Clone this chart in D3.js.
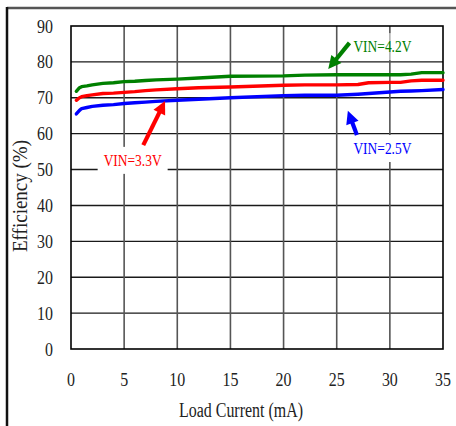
<!DOCTYPE html>
<html>
<head>
<meta charset="utf-8">
<script src="https://cdn.jsdelivr.net/npm/d3@7"></script>
<style>
  body { margin: 0; background: #fff; }
  svg { display: block; }
  text { font-family: "Liberation Serif", "DejaVu Serif", serif; }
</style>
</head>
<body>
<svg width="456" height="426"></svg>
<script>
// Données
let courant = [0.5, 0.8, 1, 1.5, 2, 3, 4, 5, 6, 7, 8, 10, 12, 15, 20, 22, 25, 27, 28, 30, 31, 32, 33, 35];

let vin42 = [71.8, 72.8, 73.1, 73.3, 73.6, 74.0, 74.2, 74.5, 74.6, 74.8, 75.0, 75.2, 75.5, 76.0, 76.1, 76.3, 76.4, 76.4, 76.4, 76.4, 76.4, 76.6, 77.0, 77.0];
let vin33 = [69.3, 70.0, 70.3, 70.6, 70.8, 71.2, 71.3, 71.5, 71.7, 72.0, 72.2, 72.5, 72.8, 73.0, 73.5, 73.6, 73.6, 73.7, 74.2, 74.3, 74.3, 74.7, 74.9, 74.9];
let vin25 = [65.5, 66.5, 67.0, 67.3, 67.6, 67.9, 68.1, 68.4, 68.6, 68.8, 69.0, 69.3, 69.6, 70.0, 70.6, 70.7, 70.7, 71.0, 71.2, 71.6, 71.8, 71.9, 72.0, 72.3];

let series = [
    { nom: "VIN=4.2V", valeurs: vin42, couleur: "#008000" },
    { nom: "VIN=3.3V", valeurs: vin33, couleur: "#ff0000" },
    { nom: "VIN=2.5V", valeurs: vin25, couleur: "#0000ff" }
];

let xTicks = [0, 5, 10, 15, 20, 25, 30, 35];
let yTicks = [0, 10, 20, 30, 40, 50, 60, 70, 80, 90];

// annotations : texte (centre), queue et pointe de la flèche, en unités du graphe
let annotations = [
    { nom: "VIN=4.2V", couleur: "#008000", tx: 29.3, ty: 84.4, x1: 26.2, y1: 85.3, x2: 24.2, y2: 78.0, fond: 0.55 },
    { nom: "VIN=3.3V", couleur: "#ff0000", tx: 5.8, ty: 52.7, x1: 6.8, y1: 56.8, x2: 8.85, y2: 69.1, fond: 1 },
    { nom: "VIN=2.5V", couleur: "#0000ff", tx: 29.3, ty: 56.0, x1: 26.9, y1: 59.6, x2: 26.05, y2: 66.4, fond: 1 }
];

// Dessin
let svg = d3.select("svg");

let gauche = 71, droite = 443, haut = 26, bas = 349;

let x = d3.scaleLinear().domain([0, 35]).range([gauche, droite]);
let y = d3.scaleLinear().domain([0, 90]).range([bas, haut]);

// cadre extérieur
svg.append("line")
    .attr("x1", 7).attr("y1", 8).attr("x2", 456).attr("y2", 8)
    .attr("stroke", "#555").attr("stroke-width", 2.5);
svg.append("line")
    .attr("x1", 7).attr("y1", 7).attr("x2", 7).attr("y2", 426)
    .attr("stroke", "#111").attr("stroke-width", 2.5);

// grille
svg.append("g")
    .selectAll("line")
    .data(yTicks.filter(d => d > 0 && d < 90))
    .join("line")
    .attr("x1", gauche).attr("x2", droite)
    .attr("y1", d => y(d)).attr("y2", d => y(d))
    .attr("stroke", "#1a1a1a").attr("stroke-width", 1.4);

svg.append("g")
    .selectAll("line")
    .data(xTicks.filter(d => d > 0 && d < 35))
    .join("line")
    .attr("y1", haut).attr("y2", bas)
    .attr("x1", d => x(d)).attr("x2", d => x(d))
    .attr("stroke", "#555").attr("stroke-width", 1.6);

svg.append("rect")
    .attr("x", gauche).attr("y", haut)
    .attr("width", droite - gauche).attr("height", bas - haut)
    .attr("fill", "none").attr("stroke", "#000").attr("stroke-width", 1.6);

// étiquettes des axes
svg.append("g")
    .selectAll("text")
    .data(yTicks)
    .join("text")
    .attr("transform", d => `translate(53,${y(d) + 6.5}) scale(0.84,1)`)
    .attr("text-anchor", "end")
    .attr("font-size", 19)
    .attr("fill", "#222")
    .text(d => d);

svg.append("g")
    .selectAll("text")
    .data(xTicks)
    .join("text")
    .attr("transform", d => `translate(${x(d)},386) scale(0.84,1)`)
    .attr("text-anchor", "middle")
    .attr("font-size", 19)
    .attr("fill", "#222")
    .text(d => d);

svg.append("text")
    .attr("x", 241).attr("y", 417)
    .attr("text-anchor", "middle")
    .attr("font-size", 20)
    .attr("textLength", 124).attr("lengthAdjust", "spacingAndGlyphs")
    .attr("fill", "#222")
    .text("Load Current (mA)");

svg.append("text")
    .attr("transform", "translate(27,196) rotate(-90)")
    .attr("text-anchor", "middle")
    .attr("font-size", 20)
    .attr("textLength", 112).attr("lengthAdjust", "spacingAndGlyphs")
    .attr("fill", "#222")
    .text("Efficiency (%)");

// courbes
let ligne = d3.line()
    .x((d, i) => x(courant[i]))
    .y(d => y(d));

svg.append("g")
    .selectAll("path")
    .data(series)
    .join("path")
    .attr("d", d => ligne(d.valeurs))
    .attr("fill", "none")
    .attr("stroke", d => d.couleur)
    .attr("stroke-width", 3.4)
    .attr("stroke-linejoin", "round")
    .attr("stroke-linecap", "round");

// annotations
let notes = svg.append("g")
    .selectAll("g")
    .data(annotations)
    .join("g");

notes.append("rect")
    .attr("x", d => x(d.tx) - 35)
    .attr("y", d => y(d.ty) - 13)
    .attr("width", 70).attr("height", 27)
    .attr("fill", "#fff")
    .attr("fill-opacity", d => d.fond);

notes.append("text")
    .attr("x", d => x(d.tx))
    .attr("y", d => y(d.ty) + 6)
    .attr("text-anchor", "middle")
    .attr("font-size", 17.5)
    .attr("textLength", 58).attr("lengthAdjust", "spacingAndGlyphs")
    .attr("fill", d => d.couleur)
    .text(d => d.nom);

// flèches : tige + pointe triangulaire
function fleche(d) {
    let ax = x(d.x1), ay = y(d.y1), bx = x(d.x2), by = y(d.y2);
    let dx = bx - ax, dy = by - ay;
    let long = Math.sqrt(dx * dx + dy * dy);
    let ux = dx / long, uy = dy / long;
    let tete = 13, demi = 6.5;
    let cx = bx - ux * tete, cy = by - uy * tete;
    return {
        tige: [ax, ay, cx + ux * 2, cy + uy * 2],
        pointe: [[bx, by], [cx - uy * demi, cy + ux * demi], [cx + uy * demi, cy - ux * demi]]
    };
}

notes.append("line")
    .attr("x1", d => fleche(d).tige[0]).attr("y1", d => fleche(d).tige[1])
    .attr("x2", d => fleche(d).tige[2]).attr("y2", d => fleche(d).tige[3])
    .attr("stroke", d => d.couleur)
    .attr("stroke-width", 4.2);

notes.append("polygon")
    .attr("points", d => fleche(d).pointe.map(p => p.join(",")).join(" "))
    .attr("fill", d => d.couleur);
</script>
</body>
</html>
